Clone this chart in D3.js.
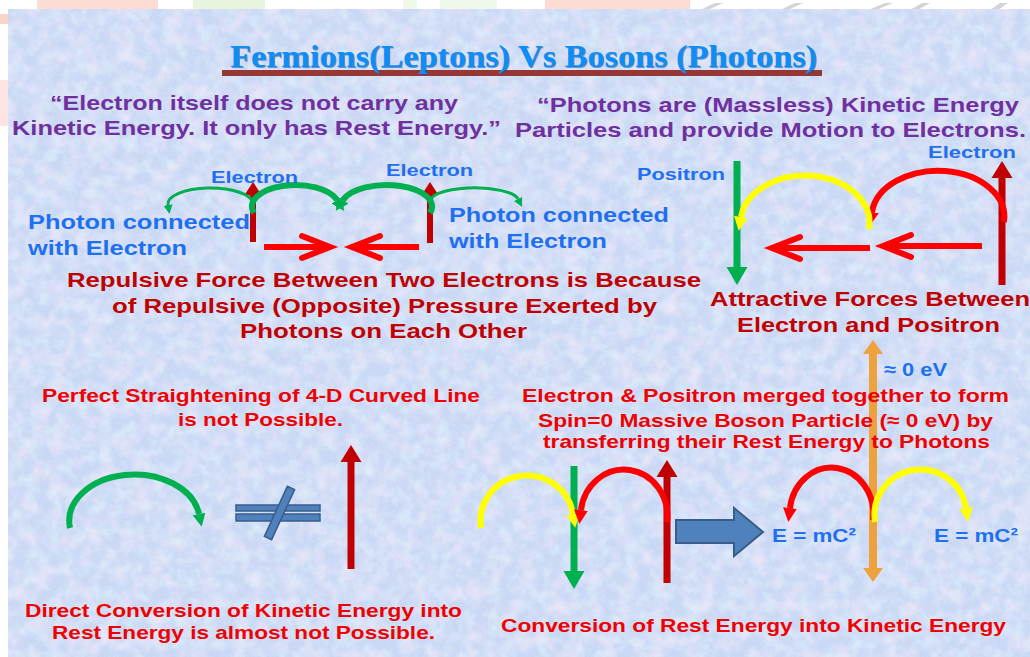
<!DOCTYPE html>
<html>
<head>
<meta charset="utf-8">
<script src="https://cdn.jsdelivr.net/npm/d3@7"></script>
<style>
  body { margin: 0; background: #fff; overflow: hidden; }
  text { font-family: "Liberation Sans", Arial, sans-serif; font-weight: bold; }
</style>
</head>
<body>
<div id="slide"></div>
<script>
// ---- text content ----
var titleText = "Fermions(Leptons) Vs Bosons (Photons)";
var quoteLeft = ["\u201CElectron itself does not carry any", "Kinetic Energy. It only has Rest Energy.\u201D"];
var quoteRight = ["\u201CPhotons are (Massless) Kinetic Energy", "Particles and provide Motion to Electrons."];
var particleLabels = ["Electron", "Electron", "Positron", "Electron"];
var photonLabels = ["Photon connected", "with Electron", "Photon connected", "with Electron"];
var repulsiveCaption = ["Repulsive Force Between Two Electrons is Because",
                        "of Repulsive (Opposite) Pressure Exerted by",
                        "Photons on Each Other"];
var attractiveCaption = ["Attractive Forces Between", "Electron and Positron"];
var straightCaption = ["Perfect Straightening of 4-D Curved Line", "is not Possible."];
var directCaption = ["Direct Conversion of Kinetic Energy into", "Rest Energy is almost not Possible."];
var mergeCaption = ["Electron & Positron merged  together to form",
                    "Spin=0 Massive Boson Particle (\u2248 0 eV) by",
                    "transferring their Rest Energy to Photons"];
var conversionCaption = ["Conversion of Rest Energy into Kinetic Energy"];
var energyLabels = ["\u2248 0 eV", "E = mC\u00B2", "E = mC\u00B2"];

// ---- layout, in slide units: [x start, x end, baseline] ----
var titleBox = [230, 817, 67];
var quoteLeftBox = [[50, 458, 110], [12, 501, 135]];
var quoteRightBox = [[537, 1019, 112], [515, 1026, 137]];
var particleBox = [[211, 298, 183], [386, 473, 176], [637, 725, 180], [928, 1016, 158]];
var photonBox = [[28, 250, 229], [28, 187, 255], [449, 669, 222], [449, 607, 248]];
var repulsiveBox = [[67, 701, 287], [112, 657, 313], [240, 527, 338]];
var attractiveBox = [[710, 1030, 306], [737, 1000, 332]];
var straightBox = [[42, 480, 402], [178, 343, 426]];
var directBox = [[25, 462, 617], [52, 435, 639]];
var mergeBox = [[522, 1009, 402], [538, 993, 427], [543, 990, 448]];
var conversionBox = [[501, 1006, 632]];
var energyBox = [[884, 947, 376], [772, 856, 542], [934, 1018, 542]];

// curved photon arrows: [start x, start y, peak y, tip x, tip y]
var arcPts = [
  [253, 203, 188, 168, 214], [254, 213, 186, 337, 213], [430, 213, 186, 343, 213], [431, 203, 188, 518, 208],
  [1004, 222, 171, 872, 226], [869, 229, 176, 741, 231],
  [70, 528, 475, 199, 527],
  [481, 528, 476, 573, 528], [667, 522, 470, 581, 524], [873, 520, 468, 790, 522], [875, 522, 470, 966, 522]
];
var arcKind = ["gThin", "gThick", "gThick", "gThin", "red", "yellow", "green", "yellow", "red", "red", "yellow"];

// straight particle arrows: [x, tail y, tip y]
var stemPts = [[253, 242, 182], [430, 243, 182], [737, 161, 285], [1002, 285, 161],
               [351, 569, 445], [574, 466, 589], [667, 583, 460]];
var stemKind = ["darkS", "darkS", "green", "dark", "dark", "green", "dark"];
var bosonPts = [873, 340, 582];   // double arrow: x, top tip, bottom tip

// force arrows: [tail x, tip x, y]
var forcePts = [[264, 330, 247], [419, 352, 247], [982, 883, 246], [870, 772, 248]];

var W = 1030, H = 657;
var x = d3.scaleLinear().domain([0, 1030]).range([0, W]);
var y = d3.scaleLinear().domain([0, 657]).range([0, H]);

var styles = {
  gThin:  { c: "#00b050", w: 3, hw: 11, hl: 9 },
  gThick: { c: "#00b050", w: 6, hw: 19, hl: 13 },
  green:  { c: "#00b050", w: 6, hw: 18, hl: 13 },
  red:    { c: "#ff0000", w: 6, hw: 18, hl: 14 },
  yellow: { c: "#ffff00", w: 6, hw: 18, hl: 14 },
  darkS:  { c: "#c00000", w: 6, hw: 17, hl: 13 },
  dark:   { c: "#c00000", w: 7, hw: 21, hl: 17 }
};
var stemGreen = { c: "#00b050", w: 7, hw: 21, hl: 18 };

var svg = d3.select("#slide").append("svg").attr("width", W).attr("height", H);
var defs = svg.append("defs");

// paper texture
function noiseFilter(id, freq, seed, matrix) {
  var f = defs.append("filter").attr("id", id).attr("x", 0).attr("y", 0).attr("width", "100%").attr("height", "100%");
  f.append("feTurbulence").attr("type", "fractalNoise").attr("baseFrequency", freq).attr("numOctaves", 3).attr("seed", seed);
  f.append("feColorMatrix").attr("type", "matrix").attr("values", matrix);
}
noiseFilter("pink", 0.06, 7, "0 0 0 0 0.87  0 0 0 0 0.80  0 0 0 0 0.95  1.6 0 0 0 -0.66");
noiseFilter("cyan", 0.08, 21, "0 0 0 0 0.74  0 0 0 0 0.89  0 0 0 0 0.98  0 1.6 0 0 -0.66");
noiseFilter("grain", 0.7, 3, "0 0 0 0 0.96  0 0 0 0 0.96  0 0 0 0 1  0 0 1.2 0 -0.5");

// faded logo strip behind the slide
var logo = svg.append("g");
[[37, 158, "#fcdcd5"], [193, 265, "#e9f4de"], [403, 417, "#f0f8e9"], [440, 497, "#f0f8e9"], [545, 690, "#fddcd3"]]
  .forEach(function (r) {
    logo.append("rect").attr("x", x(r[0])).attr("y", 0).attr("width", x(r[1]) - x(r[0])).attr("height", y(10)).attr("fill", r[2]);
  });
[[700, 715], [780, 795], [868, 885], [910, 922], [990, 1000]].forEach(function (r) {
  logo.append("polygon").attr("fill", "#d4d4d4")
    .attr("points", [[x(r[0]), y(10)], [x(r[1]), y(3)], [x(r[1] + 8), y(3)], [x(r[0] + 8), y(10)]].join(" "));
});
logo.append("rect").attr("x", 0).attr("y", y(14)).attr("width", x(8)).attr("height", y(10)).attr("fill", "#fbd3cb");
logo.append("rect").attr("x", 0).attr("y", y(80)).attr("width", x(8)).attr("height", y(46)).attr("fill", "#fde4e2");

var bg = svg.append("g");
var bx = x(8), by = y(9), bw = W - x(8), bh = H - y(9);
bg.append("rect").attr("x", bx).attr("y", by).attr("width", bw).attr("height", bh).attr("fill", "#c8d7f4");
bg.append("rect").attr("x", bx).attr("y", by).attr("width", bw).attr("height", bh).attr("filter", "url(#cyan)");
bg.append("rect").attr("x", bx).attr("y", by).attr("width", bw).attr("height", bh).attr("filter", "url(#pink)");
bg.append("rect").attr("x", bx).attr("y", by).attr("width", bw).attr("height", bh).attr("filter", "url(#grain)").attr("opacity", 0.3);

// arrowhead markers
Object.keys(styles).forEach(function (k) {
  var s = styles[k];
  defs.append("marker").attr("id", "head-" + k)
    .attr("viewBox", "0 0 10 10").attr("refX", 0).attr("refY", 5)
    .attr("markerUnits", "userSpaceOnUse")
    .attr("markerWidth", s.hl).attr("markerHeight", s.hw)
    .attr("orient", "auto")
    .append("path").attr("d", "M0,0L10,5L0,10Z").attr("fill", s.c);
});

// ---- title ----
svg.append("rect").attr("x", x(222)).attr("y", y(70)).attr("width", x(822) - x(222)).attr("height", y(6)).attr("fill", "#953735");
function titleLine(dx, dy, fill, op) {
  svg.append("text").text(titleText)
    .attr("x", x(titleBox[0]) + dx).attr("y", y(titleBox[2]) + dy)
    .attr("textLength", x(titleBox[1]) - x(titleBox[0])).attr("lengthAdjust", "spacingAndGlyphs")
    .style("font-family", "'Liberation Serif', 'Times New Roman', serif")
    .style("font-size", "31px").attr("fill", fill).attr("opacity", op);
}
titleLine(1.2, 1.2, "#1d4ea6", 0.55);
titleLine(0, 0, "#0d8ef6", 1);

// ---- text blocks ----
function block(lines, boxes, size, fill) {
  lines.forEach(function (t, i) {
    var b = boxes[i];
    svg.append("text").text(t)
      .attr("x", x(b[0])).attr("y", y(b[2]))
      .attr("textLength", x(b[1]) - x(b[0])).attr("lengthAdjust", "spacingAndGlyphs")
      .style("font-size", size + "px").attr("fill", fill);
  });
}

// ---- straight arrows ----
function stemPath(px, tail, tip, s, both) {
  var dir = tip > tail ? 1 : -1;
  var base = tip - dir * s.hl;
  var p = d3.path();
  var t0 = both ? tail + dir * s.hl : tail;
  p.moveTo(x(px - s.w / 2), y(t0));
  p.lineTo(x(px - s.w / 2), y(base));
  p.lineTo(x(px - s.hw / 2), y(base));
  p.lineTo(x(px), y(tip));
  p.lineTo(x(px + s.hw / 2), y(base));
  p.lineTo(x(px + s.w / 2), y(base));
  p.lineTo(x(px + s.w / 2), y(t0));
  if (both) {
    p.lineTo(x(px + s.hw / 2), y(t0));
    p.lineTo(x(px), y(tail));
    p.lineTo(x(px - s.hw / 2), y(t0));
  }
  p.closePath();
  return p.toString();
}

svg.selectAll("path.stem").data(stemPts).enter().append("path").attr("class", "stem")
  .attr("d", function (d, i) {
    var s = stemKind[i] === "green" ? stemGreen : styles[stemKind[i]];
    return stemPath(d[0], d[1], d[2], s, false);
  })
  .attr("fill", function (d, i) { return styles[stemKind[i]].c; });

svg.append("path")
  .attr("d", stemPath(bosonPts[0], bosonPts[2], bosonPts[1], { w: 8, hw: 20, hl: 14 }, true))
  .attr("fill", "#eda23e");

// ---- curved arrows (half ellipses) ----
svg.selectAll("path.arc").data(arcPts).enter().append("path").attr("class", "arc")
  .attr("d", function (d, i) {
    var s = styles[arcKind[i]];
    var ex = d[3], ey = d[4] - s.hl;
    var rx = Math.abs(x(ex) - x(d[0])) / 2;
    var ry = (y(d[1]) + y(ey)) / 2 - y(d[2]);
    var sweep = ex > d[0] ? 1 : 0;
    return "M" + x(d[0]) + "," + y(d[1]) + "A" + rx + "," + ry + " 0 0 " + sweep + " " + x(ex) + "," + y(ey);
  })
  .attr("fill", "none")
  .attr("stroke", function (d, i) { return styles[arcKind[i]].c; })
  .attr("stroke-width", function (d, i) { return styles[arcKind[i]].w; })
  .attr("marker-end", function (d, i) { return "url(#head-" + arcKind[i] + ")"; });

// ---- force arrows (open heads) ----
var force = svg.selectAll("g.force").data(forcePts).enter().append("g").attr("class", "force");
force.append("line")
  .attr("x1", function (d) { return x(d[0]); })
  .attr("x2", function (d) { return x(d[1]) - Math.sign(d[1] - d[0]) * 3; })
  .attr("y1", function (d) { return y(d[2]); }).attr("y2", function (d) { return y(d[2]); })
  .attr("stroke", "#ff0000").attr("stroke-width", 6);
force.append("polyline")
  .attr("points", function (d) {
    var back = d[1] - Math.sign(d[1] - d[0]) * 28;
    return [[x(back), y(d[2] - 11)], [x(d[1]), y(d[2])], [x(back), y(d[2] + 11)]].join(" ");
  })
  .attr("fill", "none").attr("stroke", "#ff0000").attr("stroke-width", 6)
  .attr("stroke-linecap", "round").attr("stroke-linejoin", "miter");

// ---- not-equal sign ----
var neq = svg.append("g").attr("fill", "#4f81bd").attr("stroke", "#385d8a").attr("stroke-width", 1.5);
[[505, 511], [514, 521]].forEach(function (r) {
  neq.append("rect").attr("x", x(236)).attr("y", y(r[0])).attr("width", x(320) - x(236)).attr("height", y(r[1]) - y(r[0]));
});
(function () {
  var a = [268, 538], b = [291, 488], hw = 4;
  var dx = b[0] - a[0], dy = b[1] - a[1], len = Math.hypot(dx, dy);
  var nx = -dy / len * hw, ny = dx / len * hw;
  neq.append("polygon").attr("points", [
    [x(a[0] + nx), y(a[1] + ny)], [x(b[0] + nx), y(b[1] + ny)],
    [x(b[0] - nx), y(b[1] - ny)], [x(a[0] - nx), y(a[1] - ny)]].join(" "));
})();

// ---- block arrow ----
svg.append("polygon")
  .attr("points", [[676, 520], [734, 520], [734, 508], [763, 532], [734, 556], [734, 543], [676, 543]]
    .map(function (p) { return [x(p[0]), y(p[1])]; }).join(" "))
  .attr("fill", "#4f81bd").attr("stroke", "#385d8a").attr("stroke-width", 2);

// ---- texts ----
block(quoteLeft, quoteLeftBox, 21, "#7030a0");
block(quoteRight, quoteRightBox, 21, "#7030a0");
block(particleLabels, particleBox, 17, "#1f6ff2");
block(photonLabels, photonBox, 21, "#1f6ff2");
block(repulsiveCaption, repulsiveBox, 21, "#c00000");
block(attractiveCaption, attractiveBox, 21, "#c00000");
block(straightCaption, straightBox, 19, "#f00000");
block(directCaption, directBox, 19, "#f00000");
block(mergeCaption, mergeBox, 19, "#f00000");
block(conversionCaption, conversionBox, 19, "#f00000");
block(energyLabels, energyBox, 19, "#1f6ff2");
</script>
</body>
</html>
